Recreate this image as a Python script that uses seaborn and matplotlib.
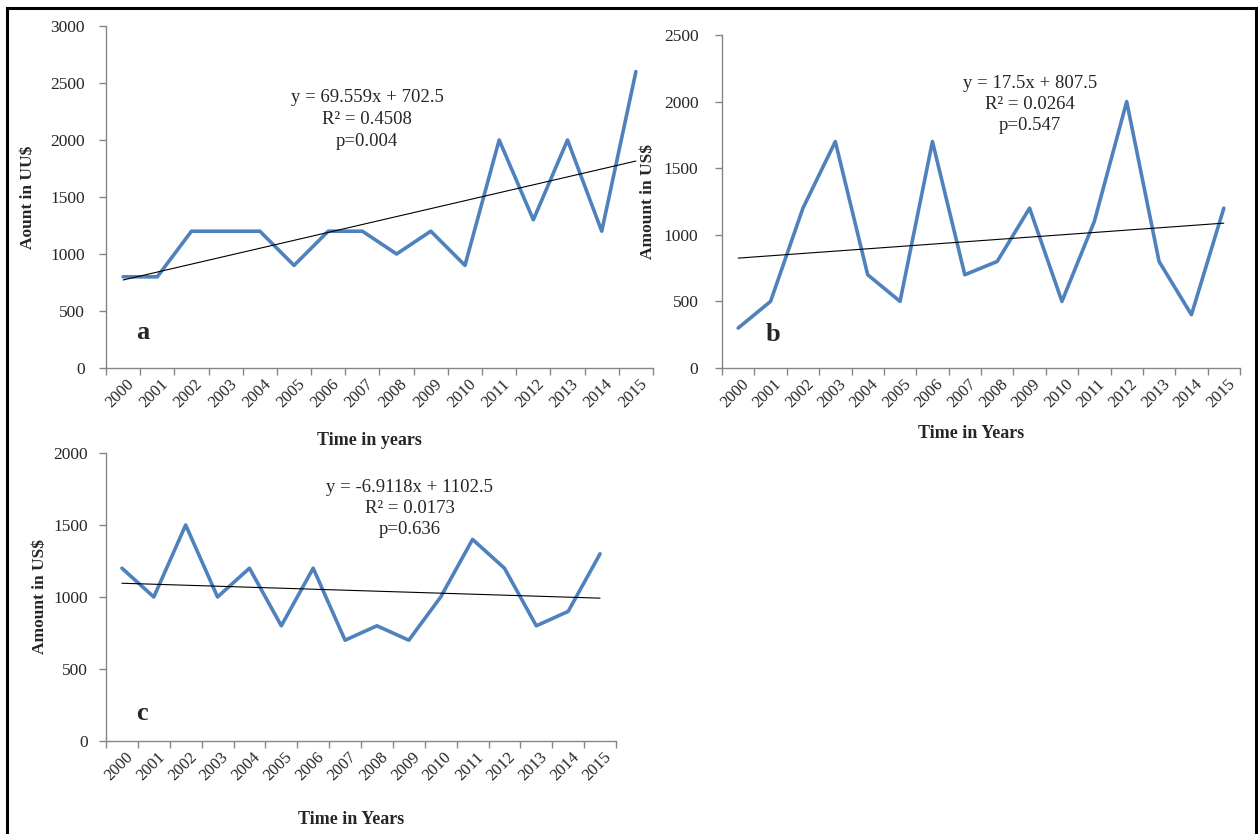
import numpy as np
import pandas as pd
import matplotlib
matplotlib.use("Agg")
import matplotlib.pyplot as plt
import seaborn as sns
from matplotlib.patches import Rectangle

sns.set_theme(style="white")
plt.rcParams['font.family'] = ['Liberation Serif', 'DejaVu Serif']

years = [str(y) for y in range(2000, 2016)]
values_a = [800, 800, 1200, 1200, 1200, 900, 1200, 1200, 1000, 1200, 900, 2000, 1300, 2000, 1200, 2600]
values_b = [300, 500, 1200, 1700, 700, 500, 1700, 700, 800, 1200, 500, 1100, 2000, 800, 400, 1200]
values_c = [1200, 1000, 1500, 1000, 1200, 800, 1200, 700, 800, 700, 1000, 1400, 1200, 800, 900, 1300]
trend_a = (69.559, 702.5)
trend_b = (17.5, 807.5)
trend_c = (-6.9118, 1102.5)
eq_a = ["y = 69.559x + 702.5", "R² = 0.4508", "p=0.004"]
eq_b = ["y = 17.5x + 807.5", "R² = 0.0264", "p=0.547"]
eq_c = ["y = -6.9118x + 1102.5", "R² = 0.0173", "p=0.636"]

W, H = 1258, 834
fig = plt.figure(figsize=(W / 100, H / 100), dpi=100)
fig.patch.set_facecolor("white")

def rect(x0, y_top, x1, y_bot):
    return [x0 / W, 1 - y_bot / H, (x1 - x0) / W, (y_bot - y_top) / H]

LINE = "#4F81BD"
GRAY = "#868686"

def panel(r, vals, trend, eq, ymax, ylab, xlab, letter, eq_pos, letter_pos, ylab_x, xlab_y, ypad):
    ax = fig.add_axes(rect(*r))
    n = len(vals)
    df = pd.DataFrame({"x": np.arange(n), "v": vals})
    sns.lineplot(data=df, x="x", y="v", ax=ax, color=LINE, linewidth=2.6)
    xi = np.arange(n)
    tr = pd.DataFrame({"x": xi, "t": trend[0] * (xi + 1) + trend[1]})
    sns.lineplot(data=tr, x="x", y="t", ax=ax, color="black", linewidth=0.8)
    ax.set_xlim(-0.5, n - 0.5)
    ax.set_ylim(0, ymax)
    ax.set_yticks(np.arange(0, ymax + 1, 500))
    ax.set_xticks(np.arange(-0.5, n, 1.0))
    ax.set_xticklabels([])
    ax.set_xticks(np.arange(n), minor=True)
    ax.set_xticklabels(years, minor=True, rotation=45, ha="right", rotation_mode="anchor", fontsize=12)
    ax.tick_params(axis="x", which="major", length=5, color=GRAY, width=1, direction="out", bottom=True)
    ax.tick_params(axis="x", which="minor", length=0, pad=6, bottom=True)
    ax.tick_params(axis="y", length=5, color=GRAY, width=1, direction="out", labelsize=12.5, left=True, pad=ypad)
    for t in ax.get_xticklabels(minor=True):
        t.set_transform(t.get_transform() + matplotlib.transforms.ScaledTranslation(0.03, 0, fig.dpi_scale_trans))
    for s in ["top", "right"]:
        ax.spines[s].set_visible(False)
    for s in ["left", "bottom"]:
        ax.spines[s].set_color(GRAY)
        ax.spines[s].set_linewidth(1)
    ax.set_xlabel("")
    ax.set_ylabel("")
    ax.grid(False)
    fig.text(ylab_x / W, 1 - (r[1] + r[3]) / 2 / H, ylab, rotation=90, ha="center", va="center",
             fontsize=12.5, fontweight="bold")
    fig.text(((r[0] + r[2]) / 2 - 10) / W, 1 - xlab_y / H, xlab, ha="center", va="center",
             fontsize=13, fontweight="bold")
    for k, line in enumerate(eq):
        fig.text(eq_pos[0] / W, 1 - (eq_pos[1] + 21.5 * k) / H, line, ha="center", va="center", fontsize=13.5)
    fig.text(letter_pos[0] / W, 1 - letter_pos[1] / H, letter, ha="center", va="center",
             fontsize=19, fontweight="bold")
    return ax

panel((106, 26, 653, 368), values_a, trend_a, eq_a, 3000, "Aount in UU$", "Time in years", "a",
      (367, 98), (143, 333), 28, 440, 10)
panel((722, 35, 1240, 368), values_b, trend_b, eq_b, 2500, "Amount in US$", "Time in Years", "b",
      (1030, 83), (773, 335), 648, 434, 12)
panel((106, 453, 616, 741), values_c, trend_c, eq_c, 2000, "Amount in US$", "Time in Years", "c",
      (410, 487), (142, 713), 40, 820, 8)

fig.patches.append(Rectangle((7 / W, -0.05), (1256 - 7) / W, 1.05 - 8 / H, transform=fig.transFigure,
                             fill=False, edgecolor="black", linewidth=2.2))

fig.savefig("out.png", dpi=100, facecolor="white")
